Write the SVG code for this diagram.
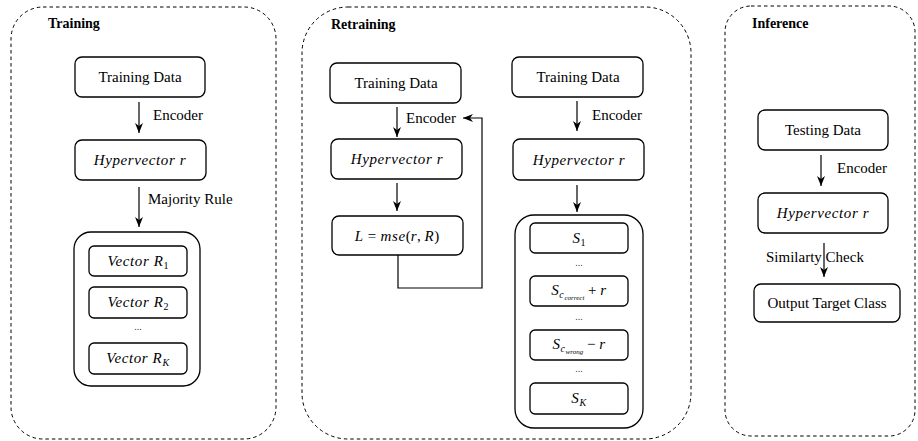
<svg xmlns="http://www.w3.org/2000/svg" width="918" height="441" viewBox="0 0 918 441">
<style>
text{font-family:'Liberation Serif','Times New Roman',Tinos,'DejaVu Serif',serif}
.cont{fill:none;stroke:#000;stroke-width:1;stroke-dasharray:3.5 3}
.box{fill:#fff;stroke:#000;stroke-width:1.3}
.t{font-size:15px;fill:#000}
.m{font-size:15px;font-style:italic;letter-spacing:0.6px;fill:#000}
.up{font-style:normal;letter-spacing:0}
.b{font-size:14px;font-weight:bold;fill:#000}
.dots{font-size:10px;fill:#444}
.edge{fill:none;stroke:#000;stroke-width:1.2}
</style>
<defs>
<marker id="ah" viewBox="0 0 10 10" refX="10" refY="5" markerWidth="10" markerHeight="10" markerUnits="userSpaceOnUse" orient="auto">
<path d="M0,1 L10,5 L0,9 L3,5 z" fill="#000"/>
</marker>
</defs>
<rect width="918" height="441" fill="#fff"/>

<g id="training">
<rect class="cont" x="11" y="7" width="265" height="432" rx="32"/>
<text class="b" x="48" y="28">Training</text>
</g>
<g id="retraining">
<rect class="cont" x="302" y="7" width="389" height="432" rx="46"/>
<text class="b" x="331" y="29">Retraining</text>
</g>
<g id="inference">
<rect class="cont" x="725" y="6" width="190" height="430" rx="26"/>
<text class="b" x="752" y="28">Inference</text>
</g>

<g id="tr-data">
<rect class="box" x="75" y="57" width="130" height="40" rx="7"/>
<text class="t" x="140" y="82" text-anchor="middle">Training Data</text>
</g>
<g id="tr-hv">
<rect class="box" x="75" y="140" width="131" height="40" rx="7"/>
<text class="m" x="140" y="165" text-anchor="middle">Hypervector r</text>
</g>
<g id="tr-group">
<rect class="box" x="74" y="232" width="126" height="154" rx="17"/>
</g>
<g id="tr-r1">
<rect class="box" x="89" y="246" width="98" height="30" rx="5"/>
<text class="m" x="138" y="266" text-anchor="middle">Vector R<tspan font-size="10" dy="3" class="up">1</tspan></text>
</g>
<g id="tr-r2">
<rect class="box" x="89" y="287" width="98" height="31" rx="5"/>
<text class="m" x="138" y="307" text-anchor="middle">Vector R<tspan font-size="10" dy="3" class="up">2</tspan></text>
</g>
<text class="dots" x="138" y="330" text-anchor="middle">...</text>
<g id="tr-rk">
<rect class="box" x="89" y="343" width="98" height="31" rx="5"/>
<text class="m" x="138" y="363" text-anchor="middle">Vector R<tspan font-size="10" dy="3">K</tspan></text>
</g>

<g id="re-data1">
<rect class="box" x="330" y="63" width="131" height="40" rx="7"/>
<text class="t" x="396" y="88" text-anchor="middle">Training Data</text>
</g>
<g id="re-hv1">
<rect class="box" x="331" y="139" width="131" height="40" rx="7"/>
<text class="m" x="397" y="164" text-anchor="middle">Hypervector r</text>
</g>
<g id="re-loss">
<rect class="box" x="332" y="216" width="131" height="39" rx="7"/>
<text class="m" x="397" y="241" text-anchor="middle">L <tspan class="up">=</tspan> mse<tspan class="up">(</tspan>r<tspan class="up">, </tspan>R<tspan class="up">)</tspan></text>
</g>

<g id="re-data2">
<rect class="box" x="512" y="57" width="131" height="40" rx="7"/>
<text class="t" x="578" y="82" text-anchor="middle">Training Data</text>
</g>
<g id="re-hv2">
<rect class="box" x="513" y="139" width="131" height="41" rx="7"/>
<text class="m" x="579" y="165" text-anchor="middle">Hypervector r</text>
</g>
<g id="re-group">
<rect class="box" x="515" y="215" width="128" height="213" rx="19"/>
</g>
<g id="re-s1">
<rect class="box" x="530" y="223" width="98" height="30" rx="5"/>
<text class="m" x="579" y="243" text-anchor="middle">S<tspan font-size="10" dy="3" class="up">1</tspan></text>
</g>
<text class="dots" x="579" y="266" text-anchor="middle">...</text>
<g id="re-sc">
<rect class="box" x="530" y="276" width="98" height="30" rx="5"/>
<text class="m" x="579" y="295" text-anchor="middle">S<tspan font-size="10" dy="3">c</tspan><tspan font-size="7" dy="2" letter-spacing="0">correct</tspan><tspan dy="-5" class="up"> + </tspan>r</text>
</g>
<text class="dots" x="579" y="320" text-anchor="middle">...</text>
<g id="re-sw">
<rect class="box" x="530" y="330" width="98" height="30" rx="5"/>
<text class="m" x="579" y="349" text-anchor="middle">S<tspan font-size="10" dy="3">c</tspan><tspan font-size="7" dy="2" letter-spacing="0">wrong</tspan><tspan dy="-5" class="up"> − </tspan>r</text>
</g>
<text class="dots" x="579" y="372" text-anchor="middle">...</text>
<g id="re-sk">
<rect class="box" x="530" y="383" width="98" height="31" rx="5"/>
<text class="m" x="579" y="403" text-anchor="middle">S<tspan font-size="10" dy="3">K</tspan></text>
</g>

<g id="in-data">
<rect class="box" x="758" y="110" width="130" height="40" rx="7"/>
<text class="t" x="823" y="135" text-anchor="middle">Testing Data</text>
</g>
<g id="in-hv">
<rect class="box" x="758" y="193" width="130" height="40" rx="7"/>
<text class="m" x="823" y="218" text-anchor="middle">Hypervector r</text>
</g>
<g id="in-out">
<rect class="box" x="754" y="284" width="146" height="38" rx="7"/>
<text class="t" x="827" y="308" text-anchor="middle">Output Target Class</text>
</g>

<g id="connectors">
<line class="edge" x1="139" y1="102" x2="139" y2="133" marker-end="url(#ah)"/>
<line class="edge" x1="139" y1="187" x2="139" y2="227" marker-end="url(#ah)"/>
<line class="edge" x1="397" y1="107" x2="397" y2="137" marker-end="url(#ah)"/>
<line class="edge" x1="397" y1="183" x2="397" y2="211" marker-end="url(#ah)"/>
<polyline class="edge" points="398,255 398,288 482,288 482,118 463,118" marker-end="url(#ah)"/>
<line class="edge" x1="577" y1="101" x2="577" y2="131" marker-end="url(#ah)"/>
<line class="edge" x1="577" y1="185" x2="577" y2="212" marker-end="url(#ah)"/>
<line class="edge" x1="821" y1="155" x2="821" y2="186" marker-end="url(#ah)"/>
<line class="edge" x1="824" y1="243" x2="824" y2="277" marker-end="url(#ah)"/>
<text class="t" x="153" y="120">Encoder</text>
<text class="t" x="148" y="204">Majority Rule</text>
<text class="t" x="406" y="123">Encoder</text>
<text class="t" x="592" y="120">Encoder</text>
<text class="t" x="837" y="173">Encoder</text>
<text class="t" x="766" y="262">Similarty Check</text>
</g>
</svg>
